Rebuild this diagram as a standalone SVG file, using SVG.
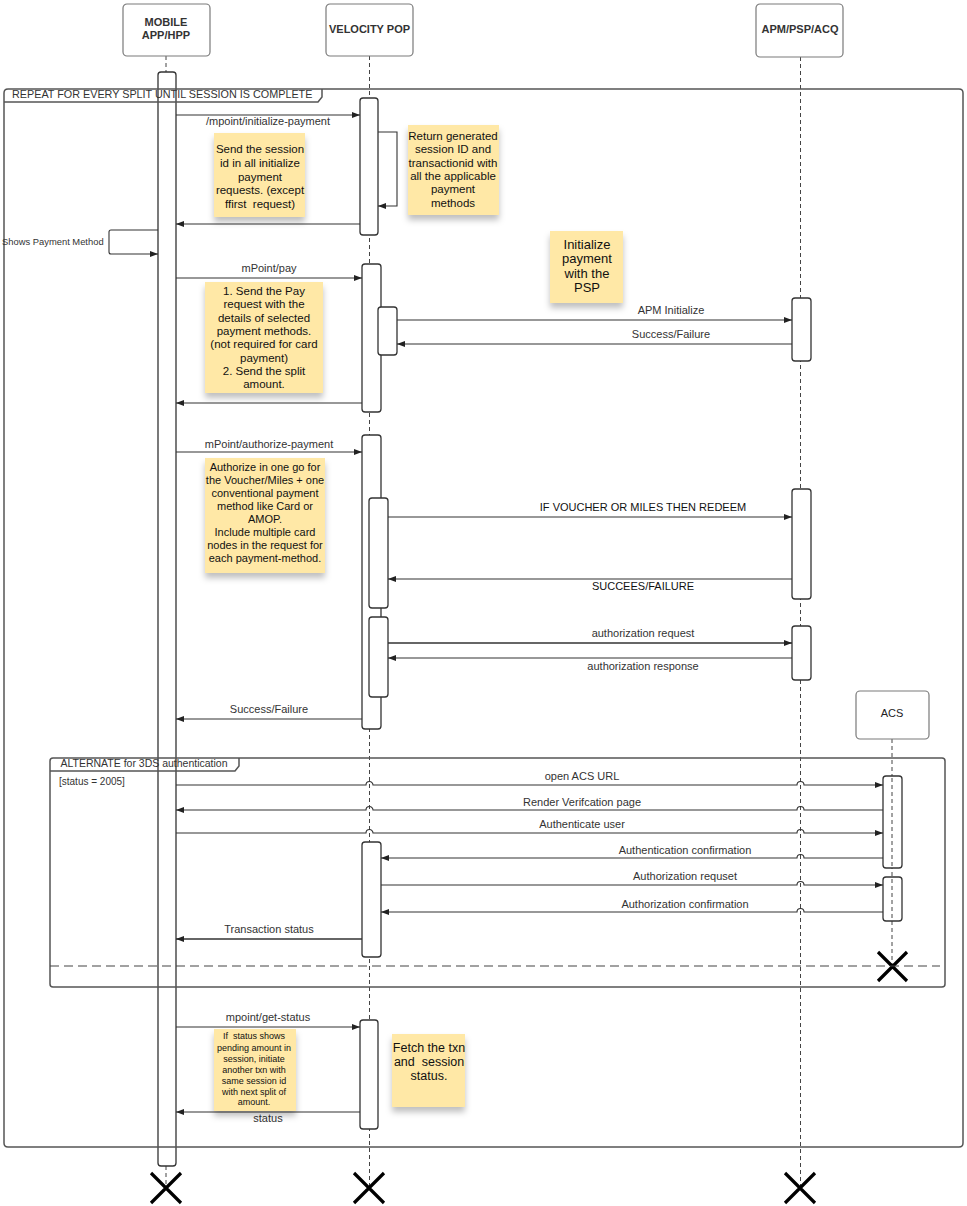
<svg xmlns="http://www.w3.org/2000/svg" width="967" height="1206" viewBox="0 0 967 1206">
<defs>
<style>
text{font-family:"Liberation Sans",Arial,sans-serif;white-space:pre}
.hdr{fill:#fff;stroke:#7a7a7a;stroke-width:1.2}
.ht{font-size:11px;font-weight:bold;fill:#333;text-anchor:middle}
.lbl{font-size:11px;fill:#333;text-anchor:middle}
.life{stroke:#444;stroke-width:1;stroke-dasharray:4 3;fill:none}
.act{fill:#fff;stroke:#333;stroke-width:1.3}
.msg{stroke:#333;stroke-width:1.1;fill:none}
.frame{fill:none;stroke:#555;stroke-width:1.5}
.note{fill:#FFE8A6;filter:url(#sh)}
.nt{font-size:11.5px;fill:#111;text-anchor:middle}
.x{stroke:#000;stroke-width:3.2;fill:none}
</style>
<filter id="sh" x="-10%" y="-10%" width="120%" height="135%">
<feDropShadow dx="0" dy="5" stdDeviation="3" flood-color="#000" flood-opacity="0.25"/>
</filter>
<marker id="ah" viewBox="0 0 8 6" refX="8" refY="3" markerWidth="8" markerHeight="6" markerUnits="userSpaceOnUse" orient="auto">
<path d="M0,0 L8,3 L0,6 z" fill="#222"/>
</marker>
</defs>
<rect width="967" height="1206" fill="#fff"/>

<g id="lifelines">
<path class="life" d="M166,56 V72 M166,1166 V1188"/>
<path class="life" d="M369.5,56 V1188"/>
<path class="life" d="M800.5,57 V1188"/>
<path class="life" d="M892,739 V966"/>
</g>

<g id="mobile">
<rect class="hdr" x="123" y="4" width="87" height="52" rx="4"/>
<text class="ht" x="166" y="26">MOBILE</text>
<text class="ht" x="166" y="39">APP/HPP</text>
<rect class="act" x="158" y="72" width="18" height="1094" rx="3"/>
<path class="x" d="M151,1173 L181,1203 M181,1173 L151,1203"/>
</g>

<g id="velocity">
<rect class="hdr" x="326" y="4" width="87" height="52" rx="4"/>
<text class="ht" x="369.5" y="32.5">VELOCITY POP</text>
<rect class="act" x="360" y="98" width="18" height="137" rx="3"/>
<rect class="act" x="362" y="264" width="19" height="148" rx="3"/>
<rect class="act" x="378" y="307" width="19" height="48" rx="3"/>
<rect class="act" x="362" y="435" width="19" height="294" rx="3"/>
<rect class="act" x="369" y="498" width="19" height="110" rx="3"/>
<rect class="act" x="369" y="617" width="19" height="80" rx="3"/>
<rect class="act" x="362" y="842" width="19" height="115" rx="3"/>
<rect class="act" x="360" y="1020" width="18" height="109" rx="3"/>
<path class="x" d="M354,1173 L384,1203 M384,1173 L354,1203"/>
</g>

<g id="apm">
<rect class="hdr" x="756" y="4" width="87" height="53" rx="4"/>
<text class="ht" x="800" y="33">APM/PSP/ACQ</text>
<rect class="act" x="792" y="298" width="19" height="63" rx="3"/>
<rect class="act" x="792" y="489" width="19" height="110" rx="3"/>
<rect class="act" x="792" y="626" width="19" height="54" rx="3"/>
<path class="x" d="M785,1173 L815,1203 M815,1173 L785,1203"/>
</g>

<g id="acs">
<rect class="hdr" x="856" y="691" width="73" height="48" rx="4"/>
<text class="lbl" x="892" y="717" style="fill:#222">ACS</text>
<rect class="act" x="883" y="776" width="19" height="92" rx="3"/>
<rect class="act" x="883" y="877" width="19" height="44" rx="3"/>
<path class="life" d="M892,778 V866 M892,879 V919"/>
<path class="x" d="M878,952 L907,981 M907,952 L878,981"/>
</g>

<g id="frames">
<path class="frame" d="M8,89 H959 Q963,89 963,93 V1143 Q963,1147 959,1147 H8 Q4,1147 4,1143 V93 Q4,89 8,89 Z"/>
<path class="frame" d="M4,102 H318 L322,97 V89"/>
<text x="12" y="98" style="font-size:10.8px;fill:#333">REPEAT FOR EVERY SPLIT UNTIL SESSION IS COMPLETE</text>
<rect class="frame" x="50" y="758" width="895" height="229" rx="3"/>
<path class="frame" d="M50,771 H235 L239,766 V758"/>
<text x="144" y="767" class="lbl" style="font-size:10.5px">ALTERNATE for 3DS authentication</text>
<text x="59" y="785" style="font-size:10px;fill:#333">[status = 2005]</text>
<path d="M50,966 H940" stroke="#444" stroke-width="1.2" stroke-dasharray="9 5" fill="none"/>
</g>

<g id="connectors">
<path class="msg" marker-end="url(#ah)" d="M176,115 H360"/>
<path class="msg" marker-end="url(#ah)" d="M378,132 H397 V206 H378"/>
<path class="msg" marker-end="url(#ah)" d="M360,224 H176"/>
<path class="msg" marker-end="url(#ah)" d="M158,230 H111 Q109,230 109,232 V252 Q109,254 111,254 H158"/>
<path class="msg" marker-end="url(#ah)" d="M176,278 H362"/>
<path class="msg" marker-end="url(#ah)" d="M397,320 H792"/>
<path class="msg" marker-end="url(#ah)" d="M792,344 H397"/>
<path class="msg" marker-end="url(#ah)" d="M362,403 H176"/>
<path class="msg" marker-end="url(#ah)" d="M176,452 H362"/>
<path class="msg" marker-end="url(#ah)" d="M388,517 H792"/>
<path class="msg" marker-end="url(#ah)" d="M792,579 H388"/>
<path class="msg" marker-end="url(#ah)" d="M388,643 H792" style="stroke-width:1.5"/>
<path class="msg" marker-end="url(#ah)" d="M792,658 H388"/>
<path class="msg" marker-end="url(#ah)" d="M362,719 H176"/>
<path class="msg" marker-end="url(#ah)" d="M176,785 H366 a3.5,3.5 0 0 1 7,0 H797 a3.5,3.5 0 0 1 7,0 H883"/>
<path class="msg" marker-end="url(#ah)" d="M883,810 H804 a3.5,3.5 0 0 0 -7,0 H373 a3.5,3.5 0 0 0 -7,0 H176"/>
<path class="msg" marker-end="url(#ah)" d="M176,833 H366 a3.5,3.5 0 0 1 7,0 H797 a3.5,3.5 0 0 1 7,0 H883"/>
<path class="msg" marker-end="url(#ah)" d="M883,858 H804 a3.5,3.5 0 0 0 -7,0 H381"/>
<path class="msg" marker-end="url(#ah)" d="M381,885 H797 a3.5,3.5 0 0 1 7,0 H883"/>
<path class="msg" marker-end="url(#ah)" d="M883,912 H804 a3.5,3.5 0 0 0 -7,0 H381"/>
<path class="msg" marker-end="url(#ah)" d="M362,939 H176" style="stroke-width:1.5"/>
<path class="msg" marker-end="url(#ah)" d="M176,1027 H360"/>
<path class="msg" marker-end="url(#ah)" d="M360,1112 H176"/>
</g>

<g id="labels">
<text class="lbl" x="268" y="125">/mpoint/initialize-payment</text>
<text x="2" y="244.5" style="font-size:9.4px;fill:#333">Shows Payment Method</text>
<text class="lbl" x="269" y="272">mPoint/pay</text>
<text class="lbl" x="671" y="314">APM Initialize</text>
<text class="lbl" x="671" y="338">Success/Failure</text>
<text class="lbl" x="269" y="448">mPoint/authorize-payment</text>
<text class="lbl" x="643" y="511" style="fill:#111">IF VOUCHER OR MILES THEN REDEEM</text>
<text class="lbl" x="643" y="590" style="fill:#111">SUCCEES/FAILURE</text>
<text class="lbl" x="643" y="637">authorization request</text>
<text class="lbl" x="643" y="670">authorization response</text>
<text class="lbl" x="269" y="713">Success/Failure</text>
<text class="lbl" x="582" y="780">open ACS URL</text>
<text class="lbl" x="582" y="806">Render Verifcation page</text>
<text class="lbl" x="582" y="828">Authenticate user</text>
<text class="lbl" x="685" y="854">Authentication confirmation</text>
<text class="lbl" x="685" y="880">Authorization requset</text>
<text class="lbl" x="685" y="908">Authorization confirmation</text>
<text class="lbl" x="269" y="933">Transaction status</text>
<text class="lbl" x="268" y="1021">mpoint/get-status</text>
<text class="lbl" x="268" y="1122">status</text>
</g>

<g id="note-session">
<rect class="note" x="214" y="133" width="91" height="84"/>
<text class="nt" x="260" y="153">Send the session</text>
<text class="nt" x="260" y="167">id in all initialize</text>
<text class="nt" x="260" y="180.5">payment</text>
<text class="nt" x="260" y="194">requests. (except</text>
<text class="nt" x="260" y="207.5">ffirst  request)</text>
</g>

<g id="note-return">
<rect class="note" x="408" y="125" width="91" height="90"/>
<text class="nt" x="453" y="140">Return generated</text>
<text class="nt" x="453" y="153">session ID and</text>
<text class="nt" x="453" y="166.5">transactionid with</text>
<text class="nt" x="453" y="180">all the applicable</text>
<text class="nt" x="453" y="193">payment</text>
<text class="nt" x="453" y="206.5">methods</text>
</g>

<g id="note-pay">
<rect class="note" x="205" y="282" width="118" height="111"/>
<text class="nt" x="264" y="295">1. Send the Pay</text>
<text class="nt" x="264" y="308">request with the</text>
<text class="nt" x="264" y="321.5">details of selected</text>
<text class="nt" x="264" y="335">payment methods.</text>
<text class="nt" x="264" y="348">(not required for card</text>
<text class="nt" x="264" y="361.5">payment)</text>
<text class="nt" x="264" y="375">2. Send the split</text>
<text class="nt" x="264" y="388">amount.</text>
</g>

<g id="note-init">
<rect class="note" x="550" y="231" width="73" height="72"/>
<text class="nt" x="587" y="248.5" style="font-size:13px">Initialize</text>
<text class="nt" x="587" y="263" style="font-size:13px">payment</text>
<text class="nt" x="587" y="277.5" style="font-size:13px">with the</text>
<text class="nt" x="587" y="292" style="font-size:13px">PSP</text>
</g>

<g id="note-authorize">
<rect class="note" x="205" y="458" width="120" height="115"/>
<text class="nt" x="265" y="471" style="font-size:11px">Authorize in one go for</text>
<text class="nt" x="265" y="484" style="font-size:11px">the Voucher/Miles + one</text>
<text class="nt" x="265" y="497" style="font-size:11px">conventional payment</text>
<text class="nt" x="265" y="509.5" style="font-size:11px">method like Card or</text>
<text class="nt" x="265" y="522.5" style="font-size:11px">AMOP.</text>
<text class="nt" x="265" y="535.5" style="font-size:11px">Include multiple card</text>
<text class="nt" x="265" y="548.5" style="font-size:11px">nodes in the request for</text>
<text class="nt" x="265" y="561.5" style="font-size:11px">each payment-method.</text>
</g>

<g id="note-status">
<rect class="note" x="214" y="1029" width="82" height="82"/>
<text class="nt" x="254" y="1039" style="font-size:9px">If  status shows</text>
<text class="nt" x="254" y="1050.5" style="font-size:9px">pending amount in</text>
<text class="nt" x="254" y="1061.5" style="font-size:9px">session, initiate</text>
<text class="nt" x="254" y="1072.5" style="font-size:9px">another txn with</text>
<text class="nt" x="254" y="1083.5" style="font-size:9px">same session id</text>
<text class="nt" x="254" y="1094.5" style="font-size:9px">with next split of</text>
<text class="nt" x="254" y="1105" style="font-size:9px">amount.</text>
</g>

<g id="note-fetch">
<rect class="note" x="392" y="1034" width="73" height="73"/>
<text class="nt" x="429" y="1052" style="font-size:12.5px">Fetch the txn</text>
<text class="nt" x="429" y="1066" style="font-size:12.5px">and  session</text>
<text class="nt" x="429" y="1080" style="font-size:12.5px">status.</text>
</g>
</svg>
